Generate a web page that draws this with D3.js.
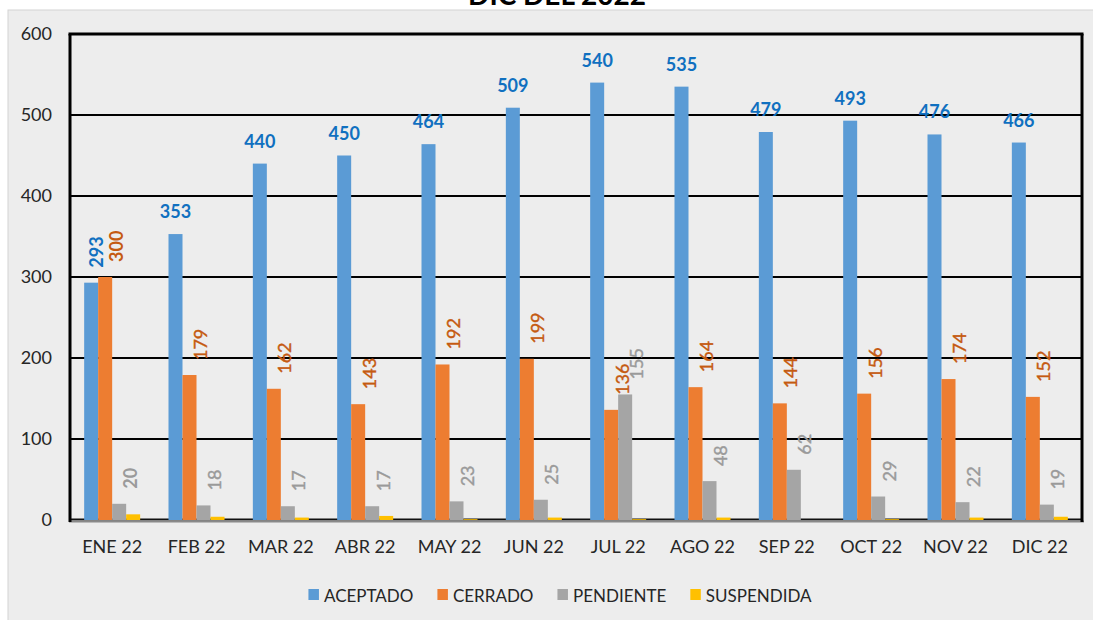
<!DOCTYPE html>
<html>
<head>
<meta charset="utf-8">
<script src="https://cdn.jsdelivr.net/npm/d3@7"></script>
<style>
  html, body { margin: 0; padding: 0; background: #ffffff; }
  svg { display: block; font-family: Lato, "Open Sans", sans-serif; }
</style>
</head>
<body>
<svg id="chart" width="1093" height="620"></svg>
<script>
const categories = ["ENE 22","FEB 22","MAR 22","ABR 22","MAY 22","JUN 22","JUL 22","AGO 22","SEP 22","OCT 22","NOV 22","DIC 22"];
const aceptado   = [293, 353, 440, 450, 464, 509, 540, 535, 479, 493, 476, 466];
const cerrado    = [300, 179, 162, 143, 192, 199, 136, 164, 144, 156, 174, 152];
const pendiente  = [20, 18, 17, 17, 23, 25, 155, 48, 62, 29, 22, 19];
const suspendida = [7, 4, 3, 5, 1, 3, 1, 3, 0, 1, 3, 4];
const seriesNames = ["ACEPTADO", "CERRADO", "PENDIENTE", "SUSPENDIDA"];
const yTicks = [0, 100, 200, 300, 400, 500, 600];
const titleText = "DIC DEL 2022";

const seriesValues = [aceptado, cerrado, pendiente, suspendida];
const barColors = ["#5b9bd5", "#ed7d31", "#a5a5a5", "#ffc000"];
const labelColors = ["#1070c0", "#c55a11", "#9a9a9a", null];

const svg = d3.select("#chart");
const W = 1093, H = 620;
const plot = { left: 70, right: 1082, top: 34, bottom: 520 };

// chart area background
svg.append("rect").attr("x", 8).attr("y", 10).attr("width", W).attr("height", H)
  .attr("fill", "#ededed").attr("stroke", "#d4d4d4").attr("stroke-width", 1);

// title (cut off at top, as in the original)
svg.append("text").attr("x", 557).attr("y", 5).attr("text-anchor", "middle")
  .attr("font-size", 28).attr("font-weight", "bold").attr("fill", "#000")
  .text(titleText);

const x0 = d3.scaleBand().domain(categories).range([plot.left, plot.right])
  .paddingInner(0.336).paddingOuter(0.168);
const x1 = d3.scaleBand().domain(seriesNames).range([0, x0.bandwidth()]).padding(0);
const y = d3.scaleLinear().domain([0, 600]).range([plot.bottom, plot.top]);

// gridlines
svg.append("g").selectAll("line").data(yTicks.filter(t => t > 0 && t < 600)).join("line")
  .attr("x1", plot.left).attr("x2", plot.right)
  .attr("y1", d => y(d)).attr("y2", d => y(d))
  .attr("stroke", "#000").attr("stroke-width", 2);
svg.append("line").attr("x1", plot.left).attr("x2", plot.right)
  .attr("y1", y(0) - 0.5).attr("y2", y(0) - 0.5).attr("stroke", "#111").attr("stroke-width", 2);

// y axis labels
const yAxis = d3.axisLeft(y).tickValues(yTicks).tickSize(0).tickPadding(18).tickFormat(d3.format("d"));
const gy = svg.append("g").attr("transform", `translate(${plot.left},0)`).call(yAxis);
gy.select(".domain").remove();
gy.selectAll("text").attr("font-size", 18).attr("fill", "#262626").attr("font-family", "Lato, sans-serif");

// bars
const data = categories.map((c, i) => ({ cat: c, vals: seriesNames.map((s, k) => ({ s, k, v: seriesValues[k][i], i })) }));
const groups = svg.append("g").selectAll("g").data(data).join("g")
  .attr("transform", d => `translate(${x0(d.cat)},0)`);
groups.selectAll("rect").data(d => d.vals).join("rect")
  .attr("x", d => x1(d.s)).attr("width", x1.bandwidth())
  .attr("y", d => y(d.v)).attr("height", d => y(0) - y(d.v))
  .attr("fill", d => barColors[d.k]);

// bottom axis line (gray) and frame
svg.append("line").attr("x1", plot.left - 1).attr("x2", plot.right + 2)
  .attr("y1", plot.bottom + 1.5).attr("y2", plot.bottom + 1.5).attr("stroke", "#8a8a8a").attr("stroke-width", 2);
svg.append("line").attr("x1", plot.left - 1.5).attr("x2", plot.right + 1.5)
  .attr("y1", plot.top).attr("y2", plot.top).attr("stroke", "#000").attr("stroke-width", 3);
svg.append("line").attr("x1", plot.left).attr("x2", plot.left)
  .attr("y1", plot.top).attr("y2", plot.bottom + 2).attr("stroke", "#000").attr("stroke-width", 3);
svg.append("line").attr("x1", plot.right).attr("x2", plot.right)
  .attr("y1", plot.top).attr("y2", plot.bottom + 2).attr("stroke", "#000").attr("stroke-width", 3);

// x axis labels
const xAxis = d3.axisBottom(x0).tickSize(0).tickPadding(20);
const gx = svg.append("g").attr("transform", `translate(0,${plot.bottom})`).call(xAxis);
gx.select(".domain").remove();
gx.selectAll("text").attr("font-size", 18).attr("fill", "#262626").attr("font-family", "Lato, sans-serif");

// data labels
const labelG = svg.append("g");
data.forEach((d, i) => {
  const gx0 = x0(d.cat);
  d.vals.forEach(v => {
    if (labelColors[v.k] === null) return;
    const cx = gx0 + x1(v.s) + x1.bandwidth() / 2;
    const top = y(v.v);
    const rotateBlue = v.k === 0 && Math.abs(aceptado[i] - cerrado[i]) < 50;
    if (v.k === 0 && !rotateBlue) {
      labelG.append("text").attr("x", cx).attr("y", top - 16)
        .attr("text-anchor", "middle").attr("font-size", 18).attr("font-weight", "bold")
        .attr("fill", labelColors[v.k]).text(v.v);
    } else {
      const off = v.k === 0 ? 5 : 11;
      const bold = (v.k === 0 || i === 0);
      labelG.append("text")
        .attr("transform", `translate(${cx + off + 6.5},${top - 15}) rotate(-90)`)
        .attr("text-anchor", "start").attr("font-size", 18)
        .attr("font-weight", bold ? "bold" : "normal")
        .attr("fill", labelColors[v.k])
        .attr("stroke", bold ? "none" : labelColors[v.k]).attr("stroke-width", 0.4)
        .text(v.v);
    }
  });
});

// legend
const legend = svg.append("g").attr("transform", "translate(0,595)");
const items = legend.selectAll("g").data(seriesNames).join("g");
items.append("rect").attr("x", 0).attr("y", -6).attr("width", 10.5).attr("height", 11)
  .attr("fill", (d, k) => barColors[k]);
items.append("text").attr("x", 15.5).attr("y", 6.5).attr("font-size", 17).attr("fill", "#262626").text(d => d);
let widths = [];
items.each(function() { widths.push(this.querySelector("text").getComputedTextLength() + 15.5); });
const gap = 24;
const total = d3.sum(widths) + gap * (widths.length - 1);
let cur = 560 - total / 2;
items.attr("transform", (d, k) => { const t = `translate(${cur},0)`; cur += widths[k] + gap; return t; });
</script>
</body>
</html>
